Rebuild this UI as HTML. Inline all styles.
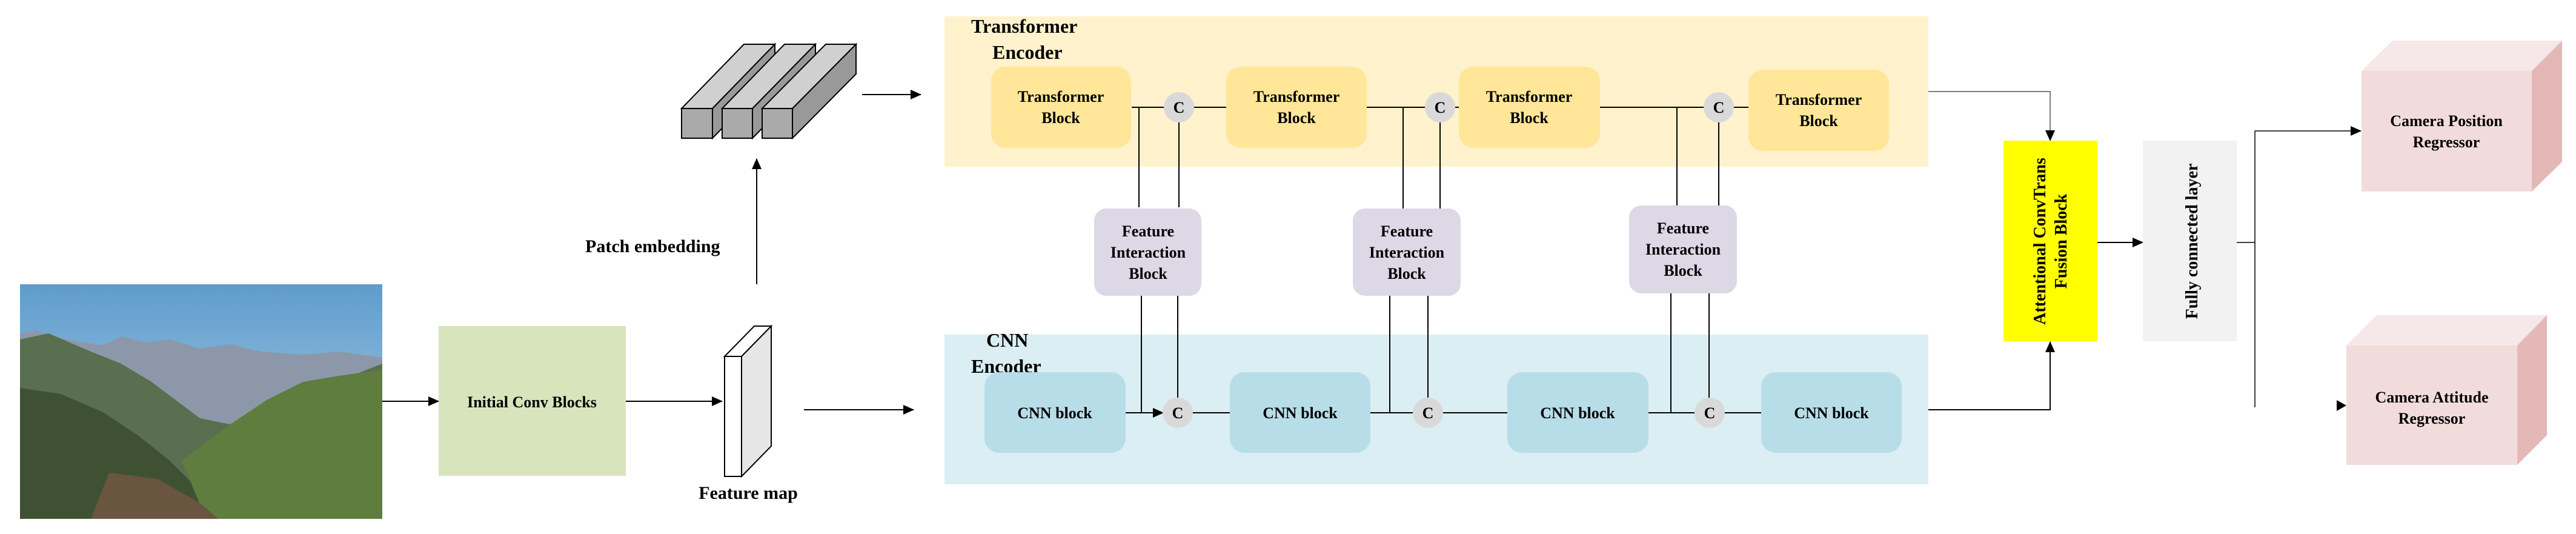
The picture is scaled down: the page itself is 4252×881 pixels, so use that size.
<!DOCTYPE html>
<html><head><meta charset="utf-8"><style>
html,body{margin:0;padding:0;background:#fff;}
svg{display:block;}
text{font-family:"Liberation Serif",serif;font-weight:bold;fill:#000;}
</style></head><body>
<svg width="4252" height="881" viewBox="0 0 4252 881" xmlns="http://www.w3.org/2000/svg">
<defs>
<marker id="a" markerWidth="10" markerHeight="10" refX="9" refY="5" orient="auto" markerUnits="userSpaceOnUse"><path d="M0,0 L10,5 L0,10 z" fill="#000"/></marker>
<marker id="b" markerWidth="18" markerHeight="16" refX="17" refY="8" orient="auto" markerUnits="userSpaceOnUse"><path d="M0,0 L18,8 L0,16 z" fill="#000"/></marker>
<linearGradient id="sky" x1="0" y1="0" x2="0" y2="1"><stop offset="0" stop-color="#5f9ccc"/><stop offset="1" stop-color="#b9d7e8"/></linearGradient>
</defs>

<!-- image -->
<g>
<rect x="33" y="469" width="598" height="387" fill="url(#sky)"/>
<polygon points="33,550 60,545 110,560 170,570 200,555 240,565 280,560 330,575 380,568 430,580 500,585 560,580 631,590 631,856 33,856" fill="#8c98aa"/>
<polygon points="33,560 80,550 150,580 200,600 250,630 290,660 330,690 380,700 420,690 460,660 520,640 580,620 631,600 631,856 33,856" fill="#5a6e50"/>
<polygon points="33,640 100,650 170,680 230,720 280,760 320,800 360,856 33,856" fill="#3e5233"/>
<polygon points="300,760 380,700 440,660 500,630 560,620 631,610 631,856 340,856" fill="#5f7d3e"/>
<polygon points="180,780 260,790 330,830 360,856 150,856" fill="#6a5540"/>
</g>

<!-- Initial conv -->
<rect x="724" y="538" width="309" height="247" fill="#D8E4BC"/>
<text x="878" y="672" font-size="26" text-anchor="middle">Initial Conv Blocks</text>
<line x1="631" y1="662" x2="724" y2="662" stroke="#000" stroke-width="2" marker-end="url(#b)"/>
<line x1="1033" y1="662" x2="1192" y2="662" stroke="#000" stroke-width="2" marker-end="url(#b)"/>

<!-- feature map -->
<polygon points="1196,588 1224,588 1273,538 1245,538" fill="#fff" stroke="#000" stroke-width="2"/>
<polygon points="1224,588 1273,538 1273,736 1224,786" fill="#e6e6e6" stroke="#000" stroke-width="2"/>
<rect x="1196" y="588" width="28" height="198" fill="#fff" stroke="#000" stroke-width="2"/>
<text x="1235" y="823" font-size="30" text-anchor="middle">Feature map</text>
<line x1="1327" y1="676" x2="1508" y2="676" stroke="#000" stroke-width="2" marker-end="url(#b)"/>

<!-- patch embedding -->
<line x1="1249" y1="469" x2="1249" y2="262" stroke="#000" stroke-width="2" marker-end="url(#b)"/>
<text x="966" y="416" font-size="30">Patch embedding</text>
<g stroke="#000" stroke-width="2">
<polygon points="1125,179 1176,179 1279,73 1228,73" fill="#d0d0d0"/>
<polygon points="1176,179 1279,73 1279,122 1176,228" fill="#999"/>
<rect x="1125" y="179" width="51" height="49" fill="#aaa"/>
<polygon points="1192,179 1242,179 1346,73 1295,73" fill="#d0d0d0"/>
<polygon points="1242,179 1346,73 1346,122 1242,228" fill="#999"/>
<rect x="1192" y="179" width="50" height="49" fill="#aaa"/>
<polygon points="1258,179 1308,179 1413,73 1363,73" fill="#d0d0d0"/>
<polygon points="1308,179 1413,73 1413,122 1308,228" fill="#999"/>
<rect x="1258" y="179" width="50" height="49" fill="#aaa"/>
</g>
<line x1="1423" y1="156" x2="1520" y2="156" stroke="#000" stroke-width="2" marker-end="url(#b)"/>

<!-- panels -->
<rect x="1559" y="27" width="1624" height="248" fill="#FFF2CC"/>
<rect x="1559" y="552" width="1624" height="247" fill="#DAEEF3"/>
<text x="1603" y="54" font-size="32">Transformer</text>
<text x="1638" y="97" font-size="32">Encoder</text>
<text x="1628" y="572" font-size="32">CNN</text>
<text x="1603" y="615" font-size="32">Encoder</text>

<!-- connection lines -->
<g stroke="#000" stroke-width="2" fill="none">
<line x1="1868" y1="177" x2="2024" y2="177"/>
<line x1="2256" y1="177" x2="2408" y2="177"/>
<line x1="2641" y1="177" x2="2886" y2="177"/>
<line x1="1880" y1="177" x2="1880" y2="342"/>
<line x1="1946" y1="177" x2="1946" y2="342"/>
<line x1="2316" y1="177" x2="2316" y2="344"/>
<line x1="2377" y1="177" x2="2377" y2="344"/>
<line x1="2768" y1="177" x2="2768" y2="339"/>
<line x1="2837" y1="177" x2="2837" y2="339"/>
<line x1="1884" y1="488" x2="1884" y2="681"/>
<line x1="1944" y1="488" x2="1944" y2="681"/>
<line x1="2294" y1="488" x2="2294" y2="681"/>
<line x1="2357" y1="488" x2="2357" y2="681"/>
<line x1="2758" y1="484" x2="2758" y2="681"/>
<line x1="2821" y1="484" x2="2821" y2="681"/>
<line x1="2262" y1="681" x2="2488" y2="681"/>
<line x1="2721" y1="681" x2="2907" y2="681"/>
<line x1="1944" y1="681" x2="2030" y2="681"/>
</g>
<line x1="1858" y1="681" x2="1920" y2="681" stroke="#000" stroke-width="2" marker-end="url(#b)"/>

<!-- transformer blocks -->
<g fill="#FFE699">
<rect x="1636" y="110" width="231" height="134" rx="24"/>
<rect x="2024" y="110" width="232" height="134" rx="24"/>
<rect x="2408" y="110" width="233" height="134" rx="24"/>
<rect x="2886" y="115" width="232" height="134" rx="24"/>
</g>
<g font-size="26" text-anchor="middle">
<text x="1751" y="168">Transformer</text><text x="1751" y="203">Block</text>
<text x="2140" y="168">Transformer</text><text x="2140" y="203">Block</text>
<text x="2524" y="168">Transformer</text><text x="2524" y="203">Block</text>
<text x="3002" y="173">Transformer</text><text x="3002" y="208">Block</text>
</g>

<!-- FIB -->
<g fill="#DDD8E6">
<rect x="1806" y="344" width="177" height="144" rx="20"/>
<rect x="2233" y="344" width="178" height="144" rx="20"/>
<rect x="2689" y="339" width="178" height="145" rx="20"/>
</g>
<g font-size="26" text-anchor="middle">
<text x="1895" y="390">Feature</text><text x="1895" y="425">Interaction</text><text x="1895" y="460">Block</text>
<text x="2322" y="390">Feature</text><text x="2322" y="425">Interaction</text><text x="2322" y="460">Block</text>
<text x="2778" y="385">Feature</text><text x="2778" y="420">Interaction</text><text x="2778" y="455">Block</text>
</g>

<!-- CNN blocks -->
<g fill="#B7DDE8">
<rect x="1625" y="614" width="233" height="133" rx="24"/>
<rect x="2030" y="614" width="232" height="133" rx="24"/>
<rect x="2488" y="614" width="233" height="133" rx="24"/>
<rect x="2907" y="614" width="232" height="133" rx="24"/>
</g>
<g font-size="26" text-anchor="middle">
<text x="1741" y="690">CNN block</text>
<text x="2146" y="690">CNN block</text>
<text x="2604" y="690">CNN block</text>
<text x="3023" y="690">CNN block</text>
</g>

<!-- C circles -->
<g fill="#D9D9D9">
<circle cx="1946" cy="177" r="25"/><circle cx="2377" cy="177" r="25"/><circle cx="2837" cy="177" r="25"/>
<circle cx="1944" cy="681" r="25"/><circle cx="2357" cy="681" r="25"/><circle cx="2822" cy="681" r="25"/>
</g>
<g font-size="26" text-anchor="middle">
<text x="1946" y="186">C</text><text x="2377" y="186">C</text><text x="2837" y="186">C</text>
<text x="1944" y="690">C</text><text x="2357" y="690">C</text><text x="2822" y="690">C</text>
</g>

<!-- to fusion -->
<polyline points="3183,151 3384,151 3384,232" fill="none" stroke="#555" stroke-width="1.5" marker-end="url(#b)"/>
<polyline points="3183,676 3384,676 3384,564" fill="none" stroke="#000" stroke-width="2" marker-end="url(#b)"/>
<rect x="3307" y="232" width="155" height="331" fill="#FFFF00"/>
<g font-size="28" text-anchor="middle">
<text transform="translate(3376,398) rotate(-90)">Attentional ConvTrans</text>
<text transform="translate(3411,398) rotate(-90)">Fusion Block</text>
</g>
<line x1="3462" y1="400" x2="3537" y2="400" stroke="#000" stroke-width="2" marker-end="url(#b)"/>
<rect x="3537" y="232" width="155" height="331" fill="#F2F2F2"/>
<text transform="translate(3627,398) rotate(-90)" font-size="28" text-anchor="middle">Fully connected layer</text>
<g stroke="#000" stroke-width="1.5" fill="none">
<line x1="3692" y1="400" x2="3722" y2="400"/>
<line x1="3722" y1="216" x2="3722" y2="672"/>
</g>
<line x1="3722" y1="216" x2="3897" y2="216" stroke="#000" stroke-width="1.5" marker-end="url(#b)"/>
<path d="M3857,660 L3873,669 L3857,678 z" fill="#000"/>

<!-- regressors -->
<polygon points="3898,117 3949,67 4229,67 4179,117" fill="#F6E8E8"/>
<polygon points="4179,117 4229,67 4229,267 4179,316" fill="#E4B8B6"/>
<rect x="3898" y="117" width="281" height="199" fill="#F2DCDB"/>
<text x="4038" y="208" font-size="26" text-anchor="middle">Camera Position</text>
<text x="4038" y="243" font-size="26" text-anchor="middle">Regressor</text>

<polygon points="3873,570 3923,520 4204,520 4155,570" fill="#F6E8E8"/>
<polygon points="4155,570 4204,520 4204,718 4155,767" fill="#E4B8B6"/>
<rect x="3873" y="570" width="282" height="197" fill="#F2DCDB"/>
<text x="4014" y="664" font-size="26" text-anchor="middle">Camera Attitude</text>
<text x="4014" y="699" font-size="26" text-anchor="middle">Regressor</text>
</svg>
</body></html>
